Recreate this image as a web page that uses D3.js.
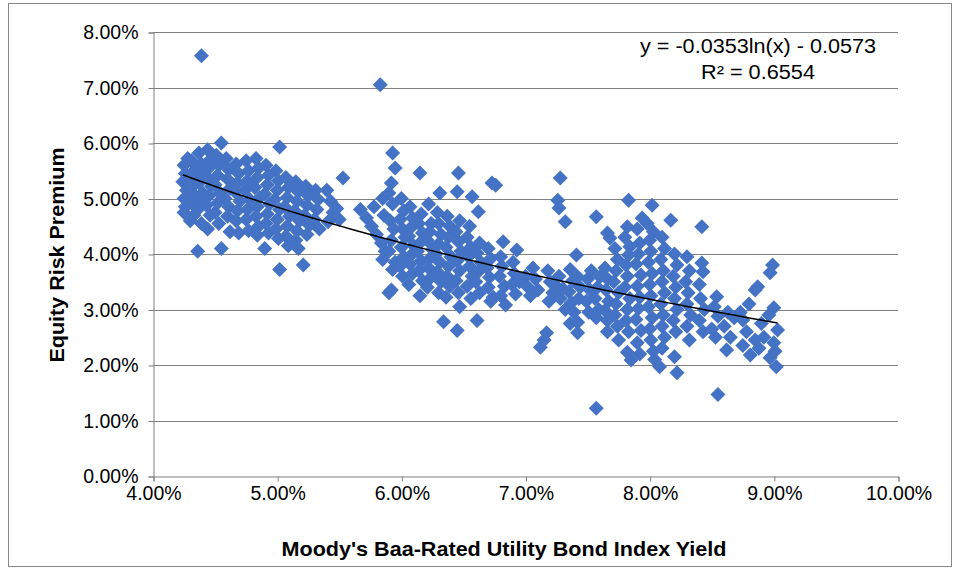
<!DOCTYPE html>
<html>
<head>
<meta charset="utf-8">
<script src="https://cdn.jsdelivr.net/npm/d3@7"></script>
<style>
  html, body { margin: 0; padding: 0; background: #ffffff; }
  svg { display: block; }
  text { font-family: "Liberation Sans", Arial, sans-serif; fill: #000; }
</style>
</head>
<body>
<svg id="chart" width="958" height="577"></svg>
<script>
// ---- data (values in percent) ----
const xTicks = [4, 5, 6, 7, 8, 9, 10];
const yTicks = [0, 1, 2, 3, 4, 5, 6, 7, 8];
const xTitle = "Moody's Baa-Rated Utility Bond Index Yield";
const yTitle = "Equity Risk Premium";
const equationText = "y = -0.0353ln(x) - 0.0573";
const r2Text = "R\u00B2 = 0.6554";
const trendSlope = -0.0353;
const trendIntercept = -0.0573;

// [bond yield %, equity risk premium %]
const clusterLow = [
  [4.25,5.6],[4.26,5.45],[4.24,5.3],[4.27,5.15],[4.25,5.0],[4.26,4.85],[4.25,4.75],[4.28,5.72],
  [4.31,5.68],[4.33,5.5],[4.32,5.35],[4.31,5.2],[4.34,5.05],[4.32,4.9],[4.33,4.7],[4.30,4.6],
  [4.37,5.82],[4.39,5.62],[4.38,5.45],[4.37,5.28],[4.4,5.1],[4.38,4.95],[4.36,4.8],[4.39,4.55],[4.36,4.05],[4.39,7.57],
  [4.44,5.88],[4.46,5.7],[4.45,5.55],[4.44,5.38],[4.47,5.22],[4.45,5.05],[4.43,4.88],[4.46,4.7],[4.44,4.45],
  [4.55,6.0],[4.51,5.78],[4.53,5.6],[4.52,5.42],[4.5,5.25],[4.54,5.1],[4.52,4.92],[4.5,4.75],[4.53,4.55],[4.55,4.1],
  [4.59,5.72],[4.61,5.52],[4.6,5.35],[4.62,5.18],[4.58,5.0],[4.61,4.85],[4.6,4.68],[4.62,4.4],
  [4.67,5.62],[4.69,5.45],[4.68,5.28],[4.66,5.12],[4.7,4.95],[4.68,4.78],[4.67,4.6],[4.69,4.38],
  [4.75,5.68],[4.77,5.5],[4.76,5.32],[4.74,5.15],[4.78,4.98],[4.76,4.8],[4.75,4.62],[4.77,4.42],
  [4.83,5.72],[4.85,5.55],[4.84,5.38],[4.82,5.2],[4.86,5.02],[4.84,4.85],[4.83,4.68],[4.85,4.5],[4.84,4.34],
  [4.91,5.6],[4.93,5.42],[4.92,5.25],[4.9,5.08],[4.94,4.9],[4.92,4.72],[4.91,4.55],[4.93,4.38],[4.9,4.1],
  [5.02,5.93],[4.99,5.5],[5.01,5.32],[5.0,5.15],[4.98,4.98],[5.02,4.8],[5.0,4.62],[4.99,4.45],[5.01,4.28],[5.02,3.72],
  [5.07,5.38],[5.09,5.2],[5.08,5.02],[5.06,4.85],[5.1,4.68],[5.08,4.5],[5.07,4.32],[5.09,4.15],
  [5.15,5.3],[5.17,5.12],[5.16,4.95],[5.14,4.78],[5.18,4.6],[5.16,4.42],[5.15,4.25],[5.17,4.1],
  [5.23,5.22],[5.25,5.05],[5.24,4.88],[5.22,4.7],[5.26,4.52],[5.24,4.35],[5.21,3.8],
  [5.31,5.15],[5.33,4.98],[5.32,4.8],[5.3,4.62],[5.34,4.45],
  [5.4,5.15],[5.43,4.95],[5.45,4.75],[5.41,4.58],[5.48,4.82],[5.53,5.37],[5.5,4.62]
];
const clusterMid = [
  [5.67,4.8],[5.72,4.65],[5.76,4.5],[5.78,4.85],[5.8,4.35],[5.83,7.05],
  [5.85,5.0],[5.86,4.7],[5.84,4.2],[5.87,4.05],[5.85,3.9],
  [5.93,5.82],[5.95,5.55],[5.92,5.28],[5.9,5.1],[5.93,4.9],[5.91,4.6],[5.94,4.45],[5.92,4.25],[5.9,4.05],[5.95,3.85],[5.92,3.35],[5.9,3.3],[5.93,3.72],
  [6.0,5.0],[6.02,4.78],[5.99,4.62],[6.01,4.45],[6.03,4.3],[6.0,4.12],[6.02,3.95],[5.99,3.78],[6.01,3.6],
  [6.07,4.85],[6.09,4.65],[6.08,4.48],[6.06,4.32],[6.1,4.15],[6.08,3.98],[6.07,3.82],[6.09,3.65],[6.06,3.45],
  [6.15,5.46],[6.16,4.72],[6.14,4.55],[6.17,4.38],[6.15,4.2],[6.13,4.05],[6.16,3.88],[6.14,3.7],[6.17,3.52],[6.15,3.25],
  [6.22,4.9],[6.24,4.55],[6.23,4.4],[6.21,4.25],[6.25,4.08],[6.23,3.92],[6.22,3.75],[6.24,3.58],[6.21,3.4],
  [6.31,5.1],[6.29,4.75],[6.3,4.55],[6.32,4.35],[6.3,4.18],[6.28,4.0],[6.31,3.85],[6.29,3.68],[6.32,3.5],[6.3,3.3],[6.34,2.78],
  [6.37,4.68],[6.39,4.5],[6.38,4.3],[6.36,4.12],[6.4,3.95],[6.38,3.78],[6.37,3.6],[6.39,3.42],[6.36,3.22],
  [6.46,5.46],[6.45,5.12],[6.47,4.6],[6.44,4.4],[6.46,4.22],[6.48,4.05],[6.45,3.88],[6.47,3.7],[6.44,3.52],[6.46,3.3],[6.47,3.05],[6.45,2.62],
  [6.57,5.03],[6.55,4.5],[6.53,4.3],[6.56,4.12],[6.54,3.95],[6.55,3.78],[6.57,3.6],[6.53,3.42],[6.56,3.2],
  [6.62,4.76],[6.63,4.2],[6.61,4.02],[6.64,3.85],[6.62,3.68],[6.6,3.5],[6.63,3.3],[6.61,2.8],
  [6.73,5.28],[6.76,5.24],[6.7,4.1],[6.72,3.92],[6.69,3.75],[6.71,3.58],[6.7,3.4],[6.72,3.15],[6.74,3.22],
  [6.8,3.95],[6.82,4.22],[6.81,3.78],[6.79,3.6],[6.83,3.42],[6.8,3.25],[6.84,3.08],
  [6.9,3.85],[6.93,4.07],[6.91,3.65],[6.89,3.45],[6.92,3.28],[6.95,3.5]
];
const clusterHigh = [
  [7.0,3.6],[7.02,3.4],[7.06,3.75],[7.04,3.25],[7.08,3.55],[7.1,3.35],[7.12,2.32],[7.15,2.45],[7.17,2.58],
  [7.18,3.7],[7.2,3.5],[7.22,3.3],[7.19,3.15],[7.23,3.45],
  [7.28,5.37],[7.26,4.97],[7.27,4.83],[7.32,4.58],[7.27,3.6],[7.3,3.38],[7.28,3.2],[7.32,3.0],
  [7.36,3.72],[7.38,3.52],[7.35,3.32],[7.37,3.12],[7.39,2.95],[7.36,2.75],
  [7.41,3.98],[7.42,3.59],[7.44,3.4],[7.43,3.2],[7.42,2.77],[7.42,2.58],
  [7.5,3.55],[7.52,3.35],[7.49,3.15],[7.51,2.95],[7.53,3.7],
  [7.57,4.67],[7.6,3.59],[7.58,3.4],[7.56,3.2],[7.59,3.0],[7.57,2.85],[7.57,1.22],
  [7.66,4.38],[7.68,4.29],[7.64,3.75],[7.66,3.55],[7.65,3.35],[7.67,3.15],[7.64,2.98],[7.66,2.8],[7.66,2.6],
  [7.72,4.1],[7.74,3.9],[7.73,3.7],[7.71,3.5],[7.75,3.3],[7.73,3.1],[7.72,2.9],[7.74,2.7],[7.75,2.45],
  [7.83,4.97],[7.82,4.49],[7.8,4.3],[7.84,4.13],[7.83,3.98],[7.81,3.8],[7.82,3.6],[7.8,3.4],[7.84,3.2],[7.82,3.0],[7.81,2.8],[7.83,2.6],[7.82,2.23],[7.85,2.09],
  [7.94,4.65],[7.9,4.45],[7.92,4.2],[7.91,4.0],[7.89,3.82],[7.93,3.62],[7.9,3.42],[7.92,3.22],[7.91,3.02],[7.89,2.82],[7.93,2.62],[7.9,2.4],[7.92,2.2],
  [8.02,4.88],[8.03,4.4],[7.98,4.55],[8.0,4.25],[8.01,4.05],[7.99,3.85],[8.02,3.65],[8.0,3.45],[8.01,3.25],[7.99,3.05],[8.02,2.85],[8.0,2.65],[8.01,2.45],[8.04,2.1],[8.08,1.97],[8.03,2.25],
  [8.1,4.3],[8.12,4.1],[8.09,3.9],[8.11,3.7],[8.1,3.5],[8.12,3.3],[8.09,3.1],[8.11,2.9],[8.1,2.7],[8.12,2.5],[8.1,2.3],[8.17,4.61],
  [8.2,4.0],[8.22,3.8],[8.19,3.6],[8.21,3.4],[8.2,3.2],[8.22,3.0],[8.19,2.8],[8.21,2.6],[8.22,1.86],[8.2,2.15],
  [8.3,3.95],[8.32,3.7],[8.29,3.5],[8.31,3.3],[8.3,3.1],[8.33,2.9],[8.32,2.45],[8.3,2.7],
  [8.42,4.49],[8.42,3.84],[8.43,3.68],[8.4,3.45],[8.41,3.2],[8.44,3.0],[8.4,2.8],[8.43,2.6],
  [8.54,3.23],[8.52,3.05],[8.55,2.88],[8.53,2.5],[8.5,2.65],[8.55,1.47],
  [8.62,2.27],[8.6,2.7],[8.63,2.95],[8.65,2.5],[8.68,2.85],
  [8.73,2.95],[8.75,2.81],[8.78,2.6],[8.81,2.18],[8.75,2.35],[8.8,3.1],
  [8.87,3.41],[8.85,3.35],[8.9,2.75],[8.88,2.3],[8.92,2.5],[8.85,2.45],
  [8.99,3.8],[8.97,3.66],[9.0,3.03],[9.03,2.63],[8.97,2.13],[9.02,1.97],[9.0,2.4],[8.96,2.9],[9.01,2.25]
];

// ---- drawing ----
const observations = clusterLow.concat(clusterMid, clusterHigh);
const svg = d3.select("#chart");
const W = 958, H = 577;
const plot = { left: 153, right: 898, top: 32, bottom: 476 };

svg.append("rect").attr("x", 0).attr("y", 0).attr("width", W).attr("height", H).attr("fill", "#fff");
svg.append("rect").attr("x", 8.5).attr("y", 3.5).attr("width", 943).attr("height", 563)
  .attr("fill", "none").attr("stroke", "#8a8a8a").attr("stroke-width", 1);

const x = d3.scaleLinear().domain([4, 10]).range([plot.left, plot.right]);
const y = d3.scaleLinear().domain([0, 8]).range([plot.bottom, plot.top]);
const fmt = d => d.toFixed(2) + "%";

// gridlines
svg.append("g").selectAll("line").data(yTicks.filter(t => t > 0)).join("line")
  .attr("x1", plot.left).attr("x2", plot.right)
  .attr("y1", d => Math.round(y(d)) + 0.5).attr("y2", d => Math.round(y(d)) + 0.5)
  .attr("stroke", "#808080").attr("stroke-width", 1);

// y axis
const yAxis = svg.append("g").attr("transform", `translate(${plot.left + 0.5},0.5)`)
  .call(d3.axisLeft(y).tickValues(yTicks).tickFormat(fmt).tickSize(5).tickPadding(10));
// x axis
const xAxis = svg.append("g").attr("transform", `translate(0.5,${plot.bottom + 0.5})`)
  .call(d3.axisBottom(x).tickValues(xTicks).tickFormat(fmt).tickSize(5).tickPadding(5));

[yAxis, xAxis].forEach(g => {
  g.select(".domain").attr("stroke", "#808080");
  g.selectAll(".tick line").attr("stroke", "#808080");
  g.selectAll(".tick text").attr("font-size", 19.5).attr("font-family", "Liberation Sans, Arial, sans-serif").attr("fill", "#111");
});

// points (diamonds)
const r = 7.5;
svg.append("g").selectAll("path").data(observations).join("path")
  .attr("d", `M0,${-r}L${r},0L0,${r}L${-r},0Z`)
  .attr("transform", d => `translate(${x(d[0])},${y(d[1])})`)
  .attr("fill", "#4472C4");

// trend line from the displayed equation
const xs = observations.map(d => d[0]);
const xMin = d3.min(xs), xMax = d3.max(xs);
const trendPts = d3.range(0, 61).map(i => {
  const xv = xMin + (xMax - xMin) * i / 60;
  return [xv, 100 * (trendSlope * Math.log(xv / 100) + trendIntercept)];
});
svg.append("path").datum(trendPts)
  .attr("d", d3.line().x(d => x(d[0])).y(d => y(d[1])))
  .attr("fill", "none").attr("stroke", "#000").attr("stroke-width", 1.5);

// equation labels
svg.append("text").attr("x", 758).attr("y", 53).attr("text-anchor", "middle")
  .attr("font-size", 19.5).attr("textLength", 236).attr("lengthAdjust", "spacingAndGlyphs").text(equationText);
svg.append("text").attr("x", 758).attr("y", 79).attr("text-anchor", "middle")
  .attr("font-size", 19.5).attr("textLength", 114).attr("lengthAdjust", "spacingAndGlyphs").text(r2Text);

// axis titles
svg.append("text").attr("x", 504).attr("y", 556).attr("text-anchor", "middle")
  .attr("font-size", 20.5).attr("font-weight", "bold")
  .attr("textLength", 445).attr("lengthAdjust", "spacingAndGlyphs").text(xTitle);
svg.append("text").attr("transform", "translate(64,255) rotate(-90)").attr("text-anchor", "middle")
  .attr("font-size", 20.5).attr("font-weight", "bold")
  .attr("textLength", 215).attr("lengthAdjust", "spacingAndGlyphs").text(yTitle);
</script>
</body>
</html>
